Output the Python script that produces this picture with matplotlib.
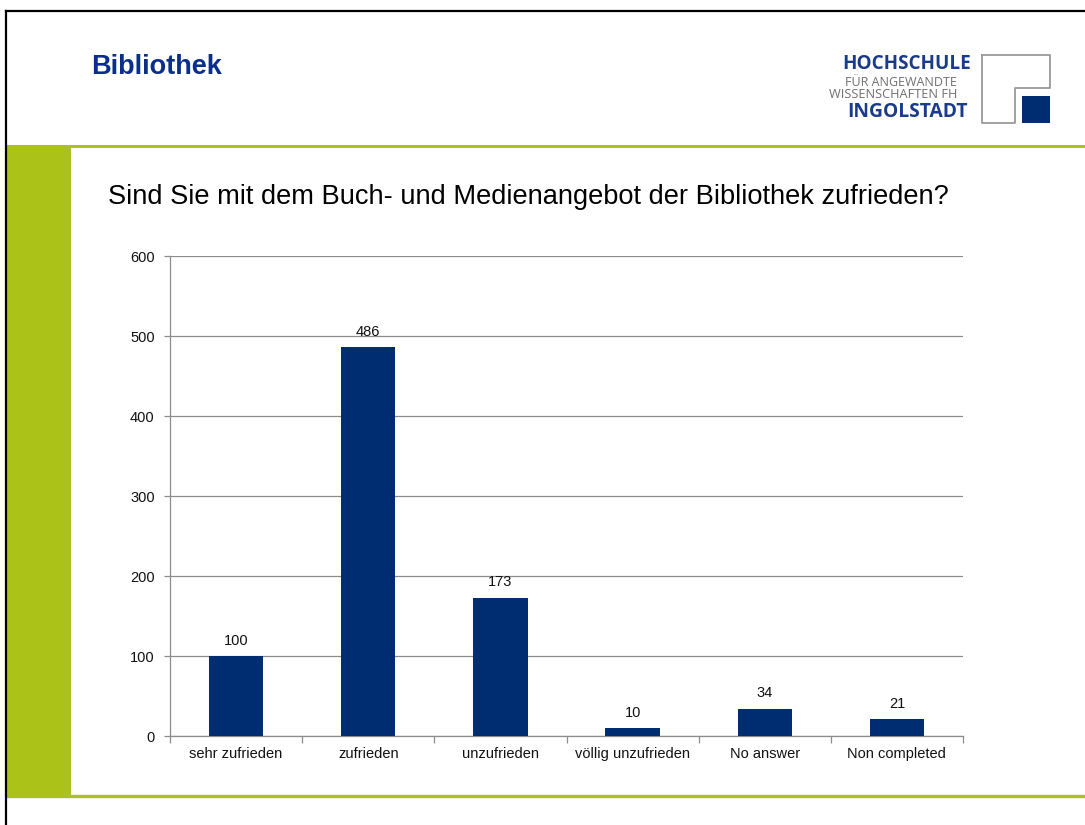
import matplotlib
matplotlib.use("Agg")
import matplotlib.pyplot as plt
from matplotlib.patches import Rectangle
from matplotlib.lines import Line2D

# ---- data ----
categories = ["sehr zufrieden", "zufrieden", "unzufrieden", "völlig unzufrieden",
              "No answer", "Non completed"]
counts = [100, 486, 173, 10, 34, 21]
y_ticks = [0, 100, 200, 300, 400, 500, 600]

page_title = "Bibliothek"
question = "Sind Sie mit dem Buch- und Medienangebot der Bibliothek zufrieden?"

NAVY = "#002D72"
TITLE_NAVY = "#0B2D8C"
GREEN = "#ABC218"
GRID = "#8C8C8C"

plt.rcParams['font.family'] = ['Liberation Sans', 'DejaVu Sans']

W, H = 1085, 825
fig = plt.figure(figsize=(W / 100, H / 100), dpi=100)
fig.patch.set_facecolor("white")

# overlay axes in pixel coordinates for page decoration
ov = fig.add_axes([0, 0, 1, 1], zorder=0)
ov.set_xlim(0, W)
ov.set_ylim(H, 0)
ov.axis("off")

# green sidebar and rules
ov.add_patch(Rectangle((7, 145), 64, 651, facecolor=GREEN, edgecolor="none"))
ov.add_line(Line2D([7, W], [145.5, 145.5], color=GREEN, lw=2.2))
ov.add_line(Line2D([7, W], [796, 796], color=GREEN, lw=2.4))
# black frame (top + left)
ov.add_line(Line2D([6, W], [11, 11], color="black", lw=1.6))
ov.add_line(Line2D([6, 6], [11, H], color="black", lw=1.6))

# page title
ov.text(91, 67, page_title, fontsize=19.5, fontweight="bold", color=TITLE_NAVY,
        ha="left", va="center")

# logo
ov.add_line(Line2D([982, 1050, 1050, 1015, 1015, 982, 982],
                   [55, 55, 88, 88, 123, 123, 55], color="#9A9A9A", lw=1.3))
ov.add_patch(Rectangle((1022, 96), 28, 27, facecolor=NAVY, edgecolor="none"))
logo_font = ['Open Sans', 'DejaVu Sans']
ov.text(971, 64, "HOCHSCHULE", fontsize=13.6, fontweight="bold", color="#1A3A8A",
        ha="right", va="center", family=logo_font)
ov.text(957, 83, "FÜR ANGEWANDTE", fontsize=9.0, color="#707070",
        ha="right", va="center", family=logo_font)
ov.text(957, 94.5, "WISSENSCHAFTEN FH", fontsize=9.2, color="#707070",
        ha="right", va="center", family=logo_font)
ov.text(968, 112, "INGOLSTADT", fontsize=13.9, fontweight="bold", color="#1A3A8A",
        ha="right", va="center", family=logo_font)

# question title
ov.text(108, 197, question, fontsize=19.65, color="black", ha="left", va="center")

# chart axes
ax = fig.add_axes([170 / W, (H - 736) / H, 793 / W, 480 / H], zorder=1)
ax.patch.set_alpha(0)
x = list(range(len(categories)))
bars = ax.bar(x, counts, width=0.41, color=NAVY, zorder=3)
ax.set_xlim(-0.5, len(categories) - 0.5)
ax.set_ylim(0, 600)
ax.set_yticks(y_ticks)
ax.set_yticklabels([str(v) for v in y_ticks])
ax.yaxis.grid(True, color=GRID, lw=0.9, zorder=0)
ax.set_axisbelow(True)
for s in ["top", "right"]:
    ax.spines[s].set_visible(False)
for s in ["left", "bottom"]:
    ax.spines[s].set_color(GRID)
    ax.spines[s].set_linewidth(0.9)

ax.set_xticks([i - 0.5 for i in range(len(categories) + 1)])
ax.set_xticklabels([])
ax.set_xticks(x, minor=True)
ax.set_xticklabels(categories, minor=True)
ax.tick_params(axis="x", which="major", length=5, color=GRID, width=0.9)
ax.tick_params(axis="x", which="minor", length=0, pad=8, labelsize=10.5, labelcolor="#111111")
ax.tick_params(axis="y", length=4, color=GRID, width=0.9, pad=7, labelsize=10.5,
               labelcolor="#111111")

for b, v in zip(bars, counts):
    ax.annotate(str(v), (b.get_x() + b.get_width() / 2, v), xytext=(0, 6),
                textcoords="offset points", ha="center", va="bottom",
                fontsize=10.5, color="#111111")

fig.savefig("out.png", dpi=100)
